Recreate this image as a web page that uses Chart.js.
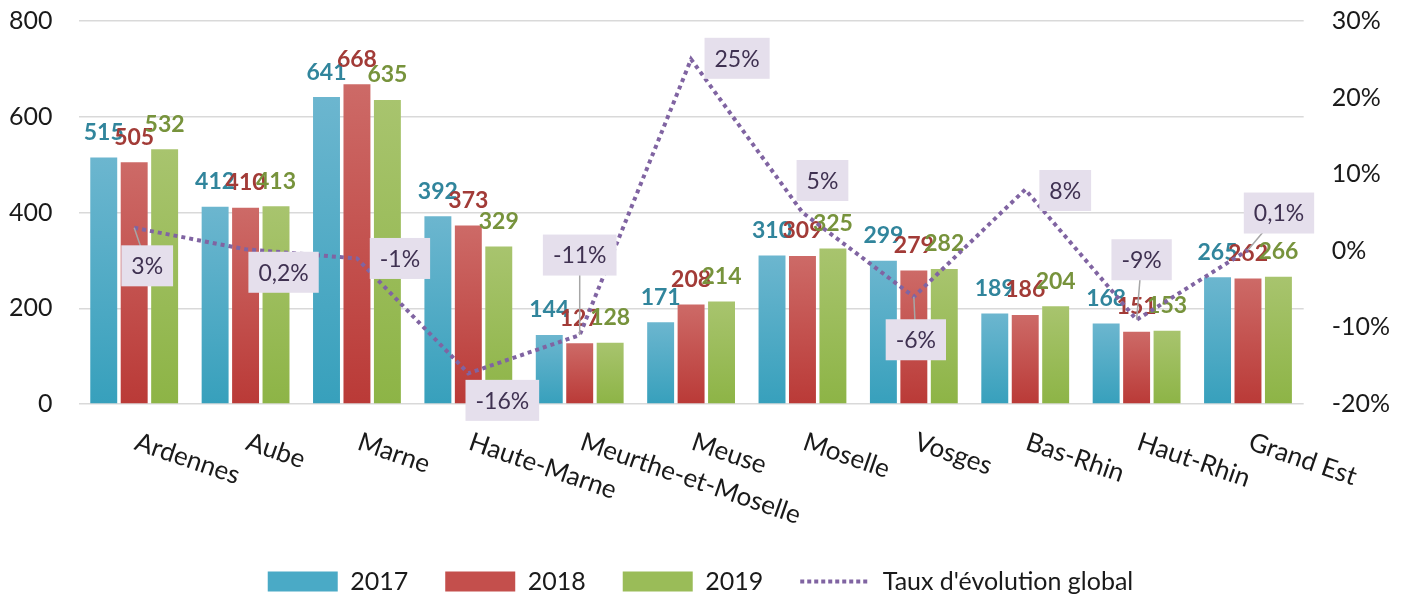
<!DOCTYPE html>
<html>
<head>
<meta charset="utf-8">
<script src="https://cdn.jsdelivr.net/npm/chart.js@4.4.0/dist/chart.umd.min.js"></script>
<style>
  html, body { margin: 0; padding: 0; background: #fff; }
  #wrap { width: 1406px; height: 599px; }
</style>
</head>
<body>
<div id="wrap"><canvas id="chart"></canvas></div>
<script>
// Data
const departements = ['Ardennes', 'Aube', 'Marne', 'Haute-Marne', 'Meurthe-et-Moselle', 'Meuse',
    'Moselle', 'Vosges', 'Bas-Rhin', 'Haut-Rhin', 'Grand Est'];
const values2017 = [515, 412, 641, 392, 144, 171, 310, 299, 189, 168, 265];
const values2018 = [505, 410, 668, 373, 127, 208, 309, 279, 186, 151, 262];
const values2019 = [532, 413, 635, 329, 128, 214, 325, 282, 204, 153, 266];
const tauxEvolution = [3, 0.2, -1, -16, -11, 25, 5, -6, 8, -9, 0.1];
const leftTicks = [0, 200, 400, 600, 800];
const rightTicks = [-20, -10, 0, 10, 20, 30];

// Where the percentage boxes sit relative to their point (pixels), and which get a leader line
const tauxLabelOffsets = [[13, 38], [38, 23], [43, 0], [34, 27], [0, -80], [46, -1],
    [20, -32], [2, 43], [40, 1], [5, -60], [31, -37]];
const tauxLeader = [true, false, false, false, true, false, false, true, false, true, true];

const FONT = 'Lato';
const fmtPct = v => String(v).replace('.', ',') + '%';

// Vertical gradient for each bar, from its top down to the zero line
function barGradient(top, bottom) {
    return (c) => {
        const chart = c.chart;
        const y = chart.scales.y;
        if (!y || c.raw == null) return bottom;
        const yTop = y.getPixelForValue(c.raw);
        const yBase = y.getPixelForValue(0);
        if (!isFinite(yTop) || !isFinite(yBase) || yTop === yBase) return bottom;
        const g = chart.ctx.createLinearGradient(0, yTop, 0, yBase);
        g.addColorStop(0, top);
        g.addColorStop(1, bottom);
        return g;
    };
}

// keep the tick padding horizontal only, so the plot can reach the top
function noVerticalPad(scale) {
    scale.paddingTop = 0;
    scale.paddingBottom = 0;
}

// Value labels above the bars (drawn just before the line so the line stays on top)
const barLabels = {
    id: 'barLabels',
    beforeDatasetDraw(chart, args) {
        if (args.meta.type !== 'line') return;
        const ctx = chart.ctx;
        ctx.save();
        ctx.font = 'bold 23px ' + FONT;
        ctx.textAlign = 'center';
        ctx.textBaseline = 'middle';
        chart.data.datasets.forEach((ds, i) => {
            if (ds.type === 'line') return;
            const meta = chart.getDatasetMeta(i);
            ctx.fillStyle = ds.labelColor;
            meta.data.forEach((bar, j) => {
                ctx.fillText(ds.data[j], bar.x, bar.y - 25);
            });
        });
        ctx.restore();
    }
};

// Boxed percentage labels on the line
const lineLabels = {
    id: 'lineLabels',
    afterDatasetsDraw(chart) {
        const idx = chart.data.datasets.findIndex(d => d.type === 'line');
        const meta = chart.getDatasetMeta(idx);
        const ctx = chart.ctx;
        ctx.save();
        ctx.font = '23px ' + FONT;
        meta.data.forEach((pt, j) => {
            const text = fmtPct(tauxEvolution[j]);
            const w = ctx.measureText(text).width + 20;
            const h = 41;
            const cx = pt.x + tauxLabelOffsets[j][0];
            const cy = pt.y + tauxLabelOffsets[j][1];
            if (tauxLeader[j]) {
                ctx.strokeStyle = '#a6a6a6';
                ctx.lineWidth = 1.5;
                ctx.setLineDash([]);
                ctx.beginPath();
                ctx.moveTo(pt.x, pt.y);
                ctx.lineTo(cx, cy);
                ctx.stroke();
            }
            ctx.fillStyle = '#e5dfec';
            ctx.fillRect(cx - w / 2, cy - h / 2, w, h);
            ctx.fillStyle = '#3f3151';
            ctx.textAlign = 'center';
            ctx.textBaseline = 'middle';
            ctx.fillText(text, cx, cy + 1);
        });
        ctx.restore();
    }
};

// Category names, slanted downwards like the original
const slantedLabels = {
    id: 'slantedLabels',
    afterDraw(chart) {
        const xs = chart.scales.x;
        const ctx = chart.ctx;
        ctx.save();
        ctx.font = '26px ' + FONT;
        ctx.fillStyle = '#1a1a1a';
        ctx.textAlign = 'left';
        ctx.textBaseline = 'alphabetic';
        departements.forEach((lab, i) => {
            const x = xs.getPixelForValue(i);
            ctx.save();
            ctx.translate(x - 1, chart.chartArea.bottom + 45);
            ctx.rotate(19 * Math.PI / 180);
            ctx.fillText(lab, 0, 0);
            ctx.restore();
        });
        ctx.restore();
    }
};

const chart = new Chart(document.getElementById('chart'), {
    data: {
        labels: departements,
        datasets: [
            {
                type: 'line',
                label: "Taux d'évolution global",
                data: tauxEvolution,
                yAxisID: 'y1',
                borderColor: '#8064a2',
                backgroundColor: '#8064a2',
                borderWidth: 4,
                borderDash: [4, 4],
                pointRadius: 0,
                fill: false,
                tension: 0,
                order: 0,
            },
            {
                type: 'bar',
                label: '2017',
                data: values2017,
                backgroundColor: barGradient('#6cb6cf', '#37a0bc'),
                legendColor: '#4aaac6',
                labelColor: '#31859c',
                order: 1,
            },
            {
                type: 'bar',
                label: '2018',
                data: values2018,
                backgroundColor: barGradient('#cd6a67', '#ba3a37'),
                legendColor: '#c44f4c',
                labelColor: '#a23b37',
                order: 1,
            },
            {
                type: 'bar',
                label: '2019',
                data: values2019,
                backgroundColor: barGradient('#a8c46e', '#8db446'),
                legendColor: '#9abc58',
                labelColor: '#77933c',
                order: 1,
            },
        ],
    },
    options: {
        responsive: true,
        maintainAspectRatio: false,
        animation: false,
        layout: { autoPadding: false, padding: { top: 21, left: -17, right: -12, bottom: -5 } },
        datasets: {
            bar: { categoryPercentage: 0.82, barPercentage: 0.885 },
        },
        scales: {
            x: {
                ticks: { display: false },
                grid: { display: false },
                border: { display: false },
                afterFit(scale) { scale.height = 128; },
            },
            y: {
                position: 'left',
                min: 0,
                max: 800,
                afterBuildTicks(scale) { scale.ticks = leftTicks.map(v => ({ value: v })); },
                afterFit: noVerticalPad,
                ticks: { font: { family: FONT, size: 25 }, color: '#1a1a1a', padding: 26 },
                grid: { color: '#d9d9d9', lineWidth: 1.5, drawTicks: false },
                border: { display: false },
            },
            y1: {
                position: 'right',
                min: -20,
                max: 30,
                afterBuildTicks(scale) { scale.ticks = rightTicks.map(v => ({ value: v })); },
                afterFit: noVerticalPad,
                ticks: {
                    font: { family: FONT, size: 25 }, color: '#1a1a1a', padding: 28,
                    callback: v => v + '%',
                },
                grid: { display: false, drawTicks: false },
                border: { display: false },
            },
        },
        plugins: {
            tooltip: { enabled: false },
            legend: {
                position: 'bottom',
                labels: {
                    usePointStyle: true,
                    pointStyleWidth: 70,
                    boxHeight: 20,
                    padding: 37,
                    font: { family: FONT, size: 25 },
                    color: '#1a1a1a',
                    generateLabels(chart) {
                        const order = [1, 2, 3, 0];
                        return order.map(i => {
                            const ds = chart.data.datasets[i];
                            const isLine = ds.type === 'line';
                            return {
                                text: ds.label,
                                datasetIndex: i,
                                pointStyle: isLine ? 'line' : 'rect',
                                fillStyle: isLine ? ds.borderColor : ds.legendColor,
                                strokeStyle: isLine ? ds.borderColor : ds.legendColor,
                                lineWidth: isLine ? 4 : 0,
                                lineDash: isLine ? [4, 3] : [],
                                fontColor: '#1a1a1a',
                                hidden: false,
                            };
                        });
                    },
                },
            },
        },
    },
    plugins: [barLabels, lineLabels, slantedLabels],
});
</script>
</body>
</html>
